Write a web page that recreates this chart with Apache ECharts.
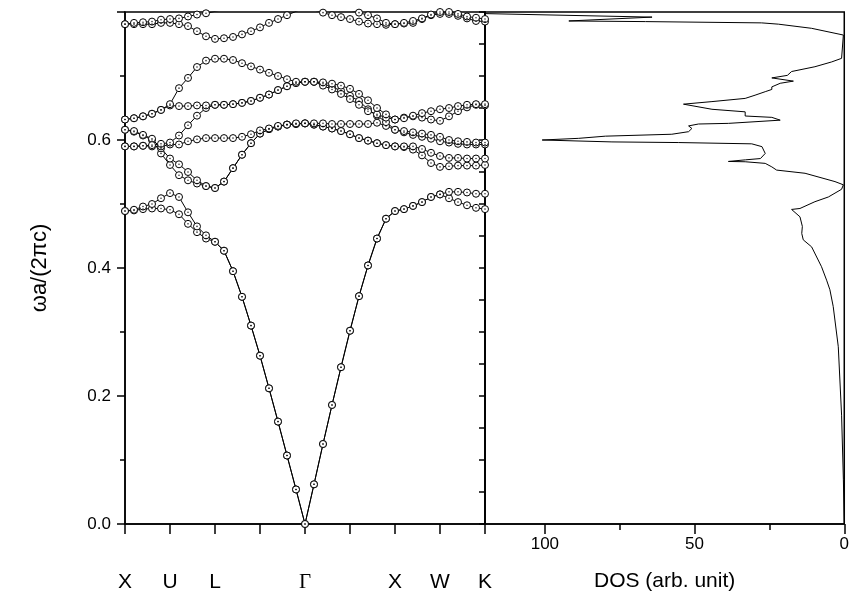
<!DOCTYPE html>
<html>
<head>
<meta charset="utf-8">
<script src="https://cdn.jsdelivr.net/npm/echarts@6/dist/echarts.min.js"></script>
<style>
  html, body { margin: 0; padding: 0; background: #fff; }
  #chart { width: 852px; height: 599px; }
</style>
</head>
<body>
<div id="chart"></div>
<script>
// Photonic band structure along X-U-L-Γ-X-W-K (41 k-points) and density of states.
const kLabels = ['X', 'U', 'L', '', 'Γ', '', 'X', 'W', 'K'];   // one per tick, every 5 k-points

const band1 = [0.489,0.490,0.492,0.493,0.493,0.491,0.484,0.469,0.456,0.446,0.441,
  0.427,0.395,0.355,0.310,0.263,0.212,0.160,0.107,0.054,0.000,
  0.062,0.125,0.186,0.245,0.302,0.356,0.404,0.446,0.477,0.489,
  0.492,0.497,0.503,0.511,0.515,0.509,0.503,0.498,0.494,0.492];
const band2 = [0.489,0.491,0.496,0.500,0.509,0.517,0.511,0.487,0.465,0.451,0.441,
  0.427,0.395,0.355,0.310,0.263,0.212,0.160,0.107,0.054,0.000,
  0.062,0.125,0.186,0.245,0.302,0.356,0.404,0.446,0.477,0.489,
  0.492,0.497,0.503,0.511,0.515,0.519,0.519,0.518,0.516,0.516];
const band3 = [0.616,0.613,0.607,0.600,0.579,0.561,0.545,0.537,0.532,0.528,0.525,
  0.535,0.556,0.577,0.595,0.610,0.617,0.621,0.624,0.625,0.626,
  0.624,0.621,0.618,0.614,0.609,0.603,0.599,0.595,0.592,0.590,
  0.589,0.585,0.576,0.564,0.558,0.559,0.560,0.560,0.560,0.561];
const band4 = [0.616,0.614,0.608,0.602,0.587,0.571,0.562,0.550,0.537,0.528,0.525,
  0.535,0.556,0.577,0.595,0.610,0.617,0.621,0.624,0.625,0.626,
  0.624,0.621,0.618,0.614,0.609,0.603,0.599,0.595,0.592,0.590,
  0.590,0.590,0.586,0.580,0.575,0.572,0.572,0.571,0.571,0.571];
const band5 = [0.590,0.590,0.591,0.590,0.590,0.593,0.593,0.598,0.601,0.603,0.603,
  0.603,0.603,0.605,0.609,0.615,0.618,0.622,0.624,0.626,0.626,
  0.626,0.626,0.625,0.625,0.625,0.625,0.625,0.627,0.622,0.616,
  0.612,0.608,0.605,0.602,0.598,0.596,0.594,0.593,0.593,0.593];
const band6 = [0.590,0.590,0.591,0.592,0.594,0.596,0.607,0.623,0.638,0.650,0.655,
  0.655,0.656,0.658,0.661,0.666,0.671,0.678,0.684,0.689,0.691,
  0.691,0.688,0.683,0.677,0.669,0.661,0.648,0.638,0.628,0.616,
  0.614,0.612,0.610,0.608,0.605,0.600,0.598,0.597,0.596,0.596];
const band7 = [0.632,0.634,0.637,0.641,0.647,0.654,0.653,0.653,0.654,0.654,0.655,
  0.655,0.656,0.658,0.661,0.666,0.671,0.678,0.684,0.689,0.691,
  0.691,0.685,0.679,0.672,0.664,0.655,0.645,0.640,0.635,0.632,
  0.635,0.637,0.635,0.632,0.630,0.637,0.645,0.651,0.655,0.654];
const band8 = [0.632,0.634,0.637,0.641,0.647,0.656,0.681,0.697,0.714,0.724,0.727,
  0.727,0.725,0.720,0.715,0.710,0.705,0.700,0.695,0.691,0.691,
  0.691,0.690,0.688,0.685,0.680,0.672,0.662,0.650,0.640,0.632,
  0.634,0.638,0.642,0.645,0.648,0.650,0.653,0.655,0.656,0.656];
const band9 = [0.781,0.781,0.781,0.781,0.783,0.783,0.781,0.778,0.770,0.762,0.758,
  0.759,0.761,0.765,0.770,0.776,0.783,0.789,0.795,0.801,0.806,
  0.803,0.799,0.795,0.792,0.789,0.785,0.782,0.781,0.780,0.781,
  0.782,0.783,0.789,0.795,0.797,0.797,0.794,0.790,0.786,0.785];
const band10 = [0.781,0.783,0.784,0.785,0.788,0.789,0.790,0.793,0.796,0.798,0.801,
  0.804,0.808,0.812,0.816,0.820,0.824,0.828,0.830,0.832,0.832,
  0.828,0.822,0.815,0.808,0.803,0.799,0.795,0.790,0.783,0.781,
  0.783,0.786,0.790,0.796,0.800,0.800,0.797,0.793,0.791,0.789];
const bands = [band1, band2, band3, band4, band5, band6, band7, band8, band9, band10];

// Density of states: [DOS (arb. unit), frequency ωa/2πc]
const dosValue = [0,0.3,0.9,2.0,3.7,4.8,5.9,7.6,10.9,13.7,14.2,14.0,14.8,17.6,14.8,9.8,5.3,0.9,0.3,3.1,
  13.1,22.6,24.2,26.4,33.1,38.7,33.0,28.0,26.4,27.5,30.9,55.3,77.6,100.9,88.7,79.8,57.6,52.0,50.9,52.0,
  48.7,38.7,21.4,24.2,33.1,33.1,44.2,53.7,44.2,33.1,29.8,26.4,24.2,24.2,21.4,17.0,24.2,19.0,17.6,9.8,
  4.2,0.9,0.3,0.3,10.9,22.0,27.6,66.4,92.0,64.2,125];
const dosFreq = [0,0.070,0.170,0.277,0.340,0.366,0.381,0.402,0.433,0.444,0.454,0.465,0.480,0.4915,0.493,0.5036,0.511,0.523,0.530,0.535,
  0.548,0.553,0.558,0.5635,0.566,0.5665,0.569,0.571,0.579,0.5896,0.594,0.596,0.597,0.600,0.6026,0.606,0.609,0.613,0.618,0.622,
  0.625,0.626,0.631,0.6354,0.6375,0.644,0.648,0.656,0.660,0.665,0.670,0.6755,0.679,0.683,0.6886,0.692,0.697,0.701,0.707,0.7145,
  0.722,0.7276,0.730,0.764,0.7745,0.781,0.783,0.785,0.786,0.792,0.798];

const freqTicks = [0, 0.2, 0.4, 0.6, 0.8];
const dosTicks = [0, 50, 100];

const kIndex = bands[0].map((_, i) => i);
const FONT = '"Liberation Sans", Arial, Helvetica, sans-serif';

const series = [];
bands.forEach((b, n) => {
  const pts = kIndex.map(i => [i, b[i]]);
  series.push({
    name: 'band' + (n + 1), type: 'line', xAxisIndex: 0, yAxisIndex: 0,
    data: pts, symbol: 'circle', symbolSize: 7, showAllSymbol: true,
    lineStyle: { color: '#000', width: 1 },
    itemStyle: { color: '#fff', borderColor: '#000', borderWidth: 1 },
    emphasis: { disabled: true }, animation: false, z: 2
  });
  series.push({
    name: 'band' + (n + 1) + '-centre', type: 'scatter', xAxisIndex: 0, yAxisIndex: 0,
    data: pts, symbol: 'circle', symbolSize: 1.6,
    itemStyle: { color: '#000' }, emphasis: { disabled: true }, animation: false, z: 3
  });
});
series.push({
  name: 'DOS', type: 'line', xAxisIndex: 1, yAxisIndex: 1,
  data: dosValue.map((d, i) => [d, dosFreq[i]]),
  symbol: 'none', lineStyle: { color: '#000', width: 1 }, clip: true,
  emphasis: { disabled: true }, animation: false
});

const chart = echarts.init(document.getElementById('chart'), null, { renderer: 'canvas' });
chart.setOption({
  backgroundColor: '#fff',
  animation: false,
  grid: [
    { left: 125, top: 12, width: 360, height: 512, show: true, borderColor: '#000', borderWidth: 1.5, containLabel: false },
    { left: 485, top: 12, width: 361, height: 512, show: true, borderColor: '#000', borderWidth: 1.5, containLabel: false }
  ],
  xAxis: [
    {
      gridIndex: 0, type: 'value', position: 'bottom', min: 0, max: 40, interval: 5,
      axisLine: { show: true, onZero: false, lineStyle: { color: '#000', width: 1.5 } },
      axisTick: { show: true, inside: false, length: 10, lineStyle: { color: '#000', width: 1.5 } },
      splitLine: { show: false },
      axisLabel: {
        show: true, margin: 48, color: '#000', fontSize: 21, fontFamily: FONT,
        formatter: v => { const s = kLabels[Math.round(v / 5)] || ''; return s === 'Γ' ? '{g|Γ}' : s; },
        rich: { g: { fontFamily: '"Liberation Serif", "Times New Roman", serif', fontSize: 21, color: '#000' } }
      }
    },
    {
      gridIndex: 1, type: 'value', position: 'bottom', min: 0, max: 120, interval: 50, inverse: true,
      name: 'DOS (arb. unit)', nameLocation: 'middle', nameGap: 47,
      nameTextStyle: { color: '#000', fontSize: 21, fontFamily: FONT },
      axisLine: { show: true, onZero: false, lineStyle: { color: '#000', width: 1.5 } },
      axisTick: { show: true, inside: false, length: 10, lineStyle: { color: '#000', width: 1.5 } },
      minorTick: { show: false },
      splitLine: { show: false },
      axisLabel: { show: true, margin: 12, color: '#000', fontSize: 17, fontFamily: FONT,
        formatter: v => dosTicks.includes(v) ? String(v) : '' }
    },
    {
      gridIndex: 1, type: 'value', position: 'bottom', offset: 0, min: 0, max: 120, interval: 25, inverse: true,
      axisLine: { show: false, onZero: false },
      axisTick: { show: true, inside: false, length: 6, lineStyle: { color: '#000', width: 1.5 } },
      splitLine: { show: false }, axisLabel: { show: false }
    }
  ],
  yAxis: [
    {
      gridIndex: 0, type: 'value', position: 'left', min: 0, max: 0.8, interval: 0.2,
      name: 'ωa/(2πc)', nameLocation: 'middle', nameGap: 74, nameRotate: 90,
      nameTextStyle: { color: '#000', fontSize: 22, fontFamily: FONT },
      axisLine: { show: true, onZero: false, lineStyle: { color: '#000', width: 1.5 } },
      axisTick: { show: true, inside: false, length: 8, lineStyle: { color: '#000', width: 1.5 } },
      minorTick: { show: true, splitNumber: 2, length: 5, lineStyle: { color: '#000', width: 1.5 } },
      splitLine: { show: false },
      axisLabel: { show: true, margin: 14, color: '#000', fontSize: 17, fontFamily: FONT,
        formatter: v => (freqTicks.indexOf(Math.round(v * 10) / 10) >= 0 && v < 0.79) ? v.toFixed(1) : '' }
    },
    {
      gridIndex: 1, type: 'value', position: 'left', offset: 0, min: 0, max: 0.8, interval: 0.05,
      axisLine: { show: true, onZero: false, lineStyle: { color: '#000', width: 1.5 } },
      axisTick: { show: false },
      splitLine: { show: false }, axisLabel: { show: false }
    },
    {
      // frequency ticks along the shared border, pointing into the band panel
      gridIndex: 0, type: 'value', position: 'right', offset: 0, min: 0, max: 0.8, interval: 0.05,
      axisLine: { show: false, onZero: false },
      axisTick: { show: true, inside: true, length: 6, lineStyle: { color: '#000', width: 1.5 } },
      splitLine: { show: false }, axisLabel: { show: false }
    }
  ],
  series: series
});
</script>
</body>
</html>
